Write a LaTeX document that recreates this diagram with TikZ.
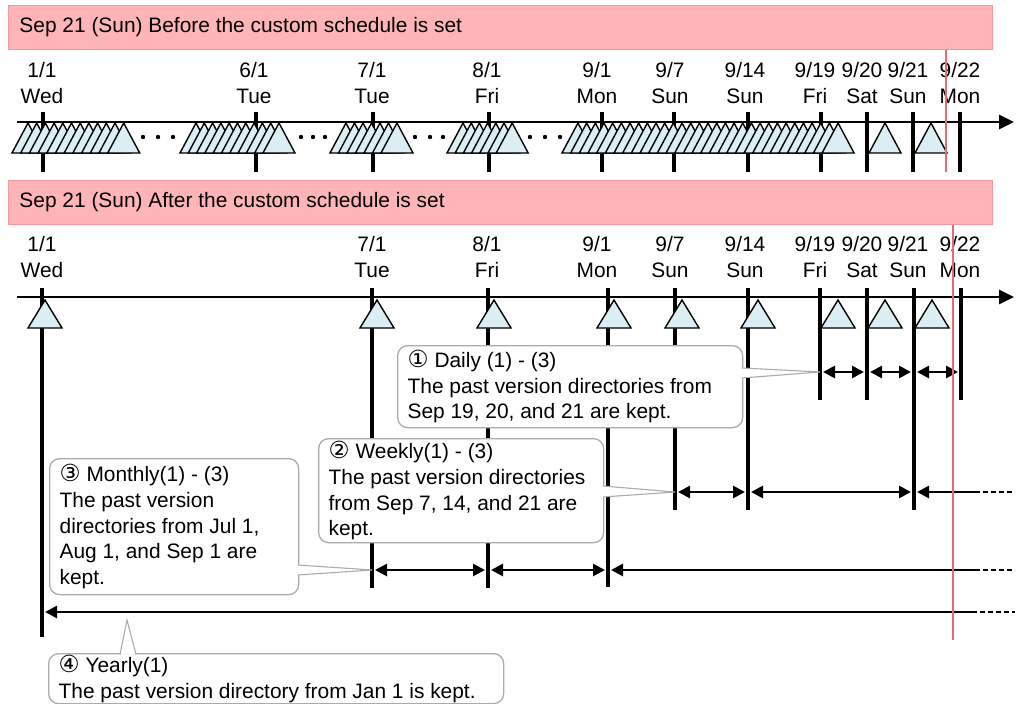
\documentclass[tikz,border=0pt]{standalone}
\usepackage{fontspec}
\setmainfont{Liberation Sans}
\newfontfamily\circfont{DejaVu Sans}
\usetikzlibrary{arrows.meta,calc}
\definecolor{bannerPink}{HTML}{FFB5B7}
\definecolor{bannerEdge}{HTML}{F2999C}
\definecolor{genBlue}{HTML}{DAEEF3}
\definecolor{nowRed}{HTML}{E36C6C}
\definecolor{noteGray}{HTML}{ABABAB}
\newcommand\cnum[1]{{\circfont\fontsize{23.5}{25.8}\selectfont #1}}

\begin{document}
\begin{tikzpicture}[
    x=1pt, y=-1pt,
    every node/.style={font=\fontsize{20.9}{25.8}\selectfont, inner sep=0pt},
    banner/.style={draw=bannerEdge, fill=bannerPink, line width=1pt, anchor=north west, minimum height=44pt, text width=962pt, inner xsep=11pt, align=flush left},
    lbl/.style={anchor=base},
    tick/.style={line width=3.2pt},
    axis/.style={line width=2.7pt, -{Triangle[length=15pt,width=14pt]}},
    gen/.style={draw, line width=1.4pt, fill=genBlue},
    span/.style={line width=2.7pt, {Triangle[length=12pt,width=12pt]}-{Triangle[length=12pt,width=12pt]}, shorten <=3pt, shorten >=3pt},
    open/.style={line width=2.7pt, {Triangle[length=12pt,width=12pt]}-, shorten <=3pt},
    tail/.style={line width=2.7pt, dash pattern=on 5pt off 3pt},
    note/.style={draw=noteGray, fill=white, line width=1.3pt, rounded corners=10pt, anchor=north west, align=flush left, inner xsep=10pt},
    beak/.style={draw=noteGray, fill=white, line width=1.1pt},
    now/.style={draw=nowRed, line width=2.2pt}
  ]
  \useasboundingbox (0,0) rectangle (1021,704);

  % before the custom schedule
  \node[banner] (before) at (8,5) {Sep 21 (Sun) Before the custom schedule is set};
  \foreach \tx/\lx/\mo/\dy/\wk [count=\i] in {43/42/1/1/Wed, 256/254/6/1/Tue, 373/372/7/1/Tue, 489/487/8/1/Fri, 602/597/9/1/Mon, 674/670/9/7/Sun, 748/745/9/14/Sun, 821/815/9/19/Fri, 867/862/9/20/Sat, 913/908/9/21/Sun, 960/960/9/22/Mon} {
    \node[lbl] (tdate\i) at (\lx,77.3) {\mo/\dy};
    \node[lbl] (tday\i) at (\lx,103.3) {\wk};
    \draw[tick] (\tx,112) -- (\tx,172);
  }
  \draw[axis] (17,122) -- (1014,122);
  \foreach \s/\n/\st in {12/12/8.7, 180/11/8.3, 330/7/8.5, 447/7/8.2, 562/31/8.67}
    \foreach \k in {1,...,\n}
      \draw[gen] ({\s+(\k-1)*\st},153) -- ++(16,-30) -- ++(16,30) -- cycle;
  \foreach \s in {869,915}
    \draw[gen] (\s,153) -- ++(16,-30) -- ++(16,30) -- cycle;
  \foreach \x in {143,158,173,301,313,325,415,430,443,530,545,560}
    \fill (\x,137) circle (2.2pt);

  % after the custom schedule
  \node[banner] (after) at (8,180) {Sep 21 (Sun) After the custom schedule is set};
  \foreach \tx/\lx/\mo/\dy/\wk/\nm/\yb [count=\i] in {42/42/1/1/Wed/Jan1/637, 372/372/7/1/Tue/Jul1/588, 488/487/8/1/Fri/Aug1/588, 608/597/9/1/Mon/Sep1/587, 675/670/9/7/Sun/Sep7/510, 748/745/9/14/Sun/Sep14/510, 820/815/9/19/Fri/Sep19/400, 867/862/9/20/Sat/Sep20/400, 914/908/9/21/Sun/Sep21/510, 961/960/9/22/Mon/Sep22/400} {
    \node[lbl] (bdate\i) at (\lx,251.3) {\mo/\dy};
    \node[lbl] (bday\i) at (\lx,277.3) {\wk};
    \draw[tick] (\tx,288) -- (\tx,\yb);
    \coordinate (b\nm) at (\tx,297);
  }
  \draw[axis] (17,297) -- (1014,297);
  \foreach \s in {28,360,477,597,665,741,821,868,915}
    \draw[gen] (\s,328) -- ++(17,-28) -- ++(17,28) -- cycle;

  \coordinate (rowDaily) at (0,372);
  \coordinate (rowWeekly) at (0,492);
  \coordinate (rowMonthly) at (0,570);
  \coordinate (rowYearly) at (0,612);
  \coordinate (wkEnd) at (975,492);
  \coordinate (moEnd) at (975,570);
  \coordinate (yrEnd) at (972,612);
  \coordinate (edge) at (1015,0);
  \coordinate (yearTip) at (127,620);

  \draw[span] (bSep19 |- rowDaily) -- (bSep20 |- rowDaily);
  \draw[span] (bSep20 |- rowDaily) -- (bSep21 |- rowDaily);
  \draw[span] (bSep21 |- rowDaily) -- (bSep22 |- rowDaily);
  \draw[span] (bSep7 |- rowWeekly) -- (bSep14 |- rowWeekly);
  \draw[span] (bSep14 |- rowWeekly) -- (bSep21 |- rowWeekly);
  \draw[open] (bSep21 |- rowWeekly) -- (wkEnd);
  \draw[tail] (wkEnd) -- (wkEnd -| edge);
  \draw[span] (bJul1 |- rowMonthly) -- (bAug1 |- rowMonthly);
  \draw[span] (bAug1 |- rowMonthly) -- (bSep1 |- rowMonthly);
  \draw[open] (bSep1 |- rowMonthly) -- (moEnd);
  \draw[tail] (moEnd) -- (moEnd -| edge);
  \draw[open] (bJan1 |- rowYearly) -- (yrEnd);
  \draw[tail] (yrEnd) -- (yrEnd -| edge);

  % callouts
  \node[note, text width=325pt, minimum height=82pt] (daily) at (397,345) {\cnum{①} Daily (1) - (3)\\The past version directories from\\Sep 19, 20, and 21 are kept.};
  \node[note, text width=265pt, minimum height=104pt] (weekly) at (318,438) {\cnum{②} Weekly(1) - (3)\\The past version directories\\from Sep 7, 14, and 21 are\\kept.};
  \node[note, text width=229pt, minimum height=136pt] (monthly) at (49,458) {\cnum{③} Monthly(1) - (3)\\The past version\\directories from Jul 1,\\Aug 1, and Sep 1 are\\kept.};
  \node[note, text width=435pt, minimum height=50pt] (yearly) at (48,653) {\cnum{④} Yearly(1)\\The past version directory from Jan 1 is kept.};

  \draw[beak] ($(daily.north east)+(-1.5,23)$) -- (bSep19 |- rowDaily) -- ($(daily.north east)+(-1.5,33)$);
  \draw[beak] ($(weekly.north east)+(-1.5,48)$) -- (bSep7 |- rowWeekly) -- ($(weekly.north east)+(-1.5,59)$);
  \draw[beak] ($(monthly.north east)+(-1.5,107)$) -- (bJul1 |- rowMonthly) -- ($(monthly.north east)+(-1.5,117)$);
  \draw[beak] ($(yearly.north west)+(72,1.5)$) -- (yearTip) -- ($(yearly.north west)+(88,1.5)$);

  % today
  \coordinate (nowTop) at (946,172);
  \coordinate (nowBot) at (953,640);
  \draw[now] (before.south -| nowTop) -- (nowTop);
  \draw[now] (after.south -| nowBot) -- (nowBot);
\end{tikzpicture}
\end{document}
